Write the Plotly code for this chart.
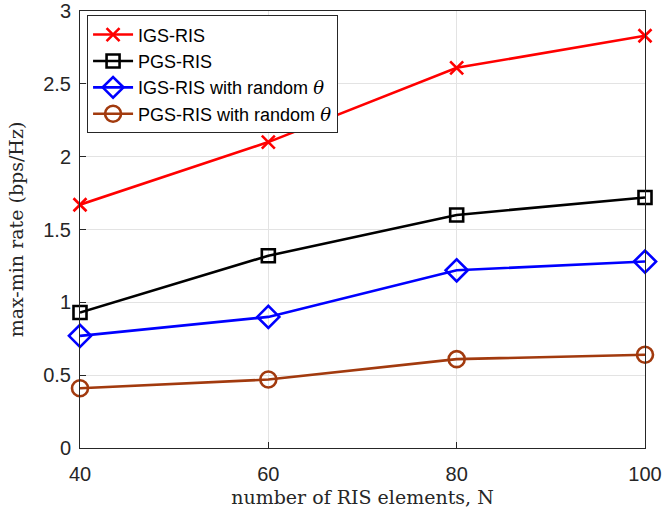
import plotly.graph_objects as go

# RIS size sweep
n_elements = [40, 60, 80, 100]

# max-min rate (bps/Hz) per scheme
igs_ris = [1.67, 2.10, 2.61, 2.83]
pgs_ris = [0.93, 1.32, 1.60, 1.72]
igs_ris_random = [0.77, 0.90, 1.22, 1.28]
pgs_ris_random = [0.41, 0.47, 0.61, 0.64]

y_ticks = [0, 0.5, 1, 1.5, 2, 2.5, 3]
y_tick_text = ["0", "0.5", "1", "1.5", "2", "2.5", "3"]

theta = "<span style='font-family:\"DejaVu Serif\",serif'><i>θ</i></span>"

series = [
    ("IGS-RIS", igs_ris, "#FF0000", "x-thin-open", 13),
    ("PGS-RIS", pgs_ris, "#000000", "square-open", 13),
    ("IGS-RIS with random " + theta, igs_ris_random, "#0000FF", "diamond-open", 17),
    ("PGS-RIS with random " + theta, pgs_ris_random, "#A23A0E", "circle-open", 16),
]

fig = go.Figure()
for name, ys, color, symbol, size in series:
    fig.add_trace(go.Scatter(
        x=n_elements, y=ys, name=name, mode="lines+markers",
        line=dict(color=color, width=2.6),
        marker=dict(symbol=symbol, size=size, color=color,
                    line=dict(color=color, width=2.6)),
        cliponaxis=False,
    ))

tick_font = dict(family="Liberation Sans, Arial, sans-serif", size=20, color="#262626")
title_font = dict(family="DejaVu Serif, serif", size=19, color="#262626")

axis_common = dict(
    showgrid=True, gridcolor="#E3E3E3", gridwidth=1,
    showline=True, linecolor="#262626", linewidth=1, mirror=True,
    ticks="inside", ticklen=6, tickcolor="#262626",
    tickfont=tick_font,
    zeroline=False,
    automargin=False,
    ticklabeloverflow="allow",
)

fig.update_layout(
    width=663, height=516,
    margin=dict(l=80, r=18, t=11, b=68),
    paper_bgcolor="white", plot_bgcolor="white",
    xaxis=dict(range=[40, 100], tickvals=n_elements,
               ticklabelstandoff=8,
               title=dict(text="number of RIS elements, N", standoff=6, font=title_font),
               **axis_common),
    yaxis=dict(range=[0, 3], tickvals=y_ticks, ticktext=y_tick_text,
               ticklabelstandoff=4,
               title=dict(text="max-min rate (bps/Hz)", standoff=14, font=title_font),
               **axis_common),
    legend=dict(x=0.0125, y=0.99, xanchor="left", yanchor="top",
                bgcolor="white", bordercolor="#262626", borderwidth=1,
                font=dict(family="Liberation Sans, Arial, sans-serif", size=18, color="#000000"),
                tracegroupgap=0, itemwidth=40),
    showlegend=True,
)

fig.write_html("out.html")
